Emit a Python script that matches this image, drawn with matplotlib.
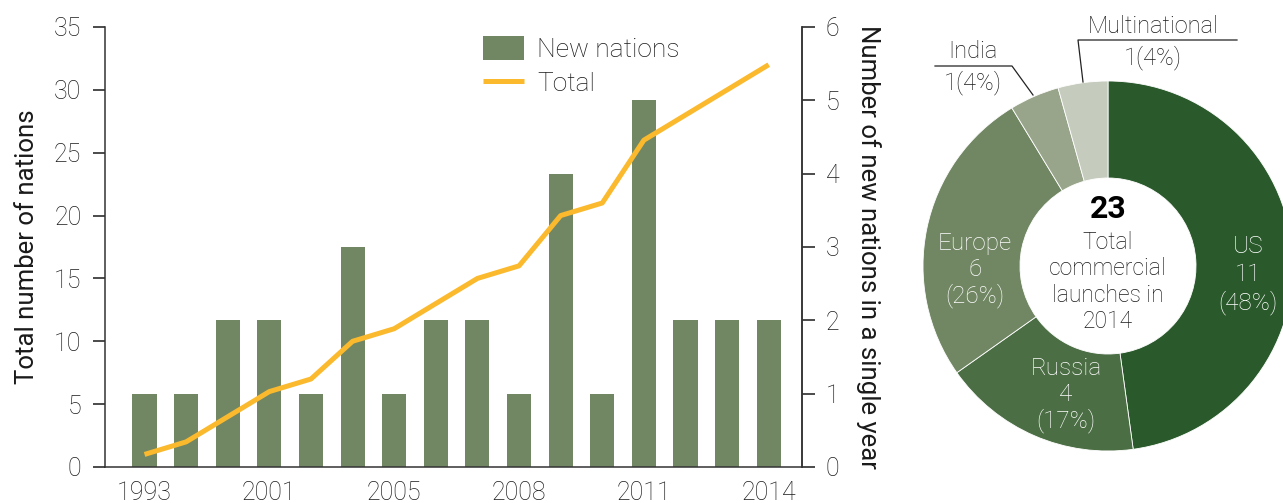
import matplotlib
matplotlib.use("Agg")
import matplotlib.pyplot as plt
from matplotlib.lines import Line2D

plt.rcParams['font.family'] = ['Roboto', 'DejaVu Sans']
plt.rcParams['font.weight'] = 'light'

# ---------------- data ----------------
years = ["1993", "1995", "1998", "2001", "2003", "2004", "2005", "2006",
         "2007", "2008", "2009", "2010", "2011", "2012", "2013", "2014"]
shown_years = ["1993", "2001", "2005", "2008", "2011", "2014"]
new_nations = [1, 1, 2, 2, 1, 3, 1, 2, 2, 1, 4, 1, 5, 2, 2, 2]
total_nations = [1, 2, 4, 6, 7, 10, 11, 13, 15, 16, 20, 21, 26, 28, 30, 32]

pie_labels = ["US", "Russia", "Europe", "India", "Multinational"]
pie_values = [11, 4, 6, 1, 1]
pie_pcts = ["48%", "17%", "26%", "4%", "4%"]
pie_total = 23

bar_color = "#718763"
line_color = "#FBB92D"
pie_colors = ["#2A5A2C", "#4B6E44", "#718763", "#98A58A", "#C5CBBD"]
text_color = "#1a1a1a"
spine_color = "#333333"

W, H = 1283, 503
fig = plt.figure(figsize=(W / 100, H / 100), dpi=100)

def box(l, t, r, b):
    return [l / W, 1 - b / H, (r - l) / W, (b - t) / H]

# ---------------- bar + line chart ----------------
ax = fig.add_axes(box(105, 27, 802, 467))
ax2 = ax.twinx()
x = list(range(len(years)))

# bars on the right-hand scale
ax.bar(x, new_nations, width=0.58, color=bar_color, label="New nations", zorder=2)
ax.set_ylim(0, 6)
ax.set_xlim(-0.95, len(years) - 0.2)
ax.set_yticks(range(0, 7))
tick_pos = [years.index(y) for y in shown_years]
ax.set_xticks(tick_pos)
ax.set_xticklabels(shown_years)
ax.tick_params(axis="x", length=0, pad=10, labelsize=18, colors=text_color)
for s in ["top", "left", "right"]:
    ax.spines[s].set_visible(False)
ax.spines["bottom"].set_color(spine_color)
ax.spines["bottom"].set_linewidth(1.1)

# line on the left-hand scale
ax2.plot(x, total_nations, color=line_color, lw=3.6, label="Total",
         solid_capstyle="butt", zorder=3)
ax2.set_ylim(0, 35)
ax2.set_yticks(range(0, 36, 5))
for s in ["top", "bottom"]:
    ax2.spines[s].set_visible(False)
for s in ["left", "right"]:
    ax2.spines[s].set_color(spine_color)
    ax2.spines[s].set_linewidth(1.1)

# axis sides: left ticks = total (ax2), right ticks = new nations (ax)
ax2.yaxis.tick_left()
ax2.yaxis.set_label_position("left")
ax.yaxis.tick_right()
ax.yaxis.set_label_position("right")
ax.spines["right"].set_visible(True)
ax.spines["right"].set_color(spine_color)
ax.spines["right"].set_linewidth(1.1)

ax2.set_ylabel("Total number of nations", fontsize=18.5, color=text_color, labelpad=11)
ax2.tick_params(axis="y", direction="out", length=9, width=1.1, pad=8,
                labelsize=18, colors=text_color)
ax.set_ylabel("Number of new nations in a single year", rotation=-90,
              fontsize=18.5, color=text_color, labelpad=12, va="bottom")
ax.tick_params(axis="y", direction="out", length=9, width=1.1, pad=8,
               labelsize=18, colors=text_color, left=False, labelleft=False,
               right=True, labelright=True)

h1, l1 = ax.get_legend_handles_labels()
h2, l2 = ax2.get_legend_handles_labels()
leg = ax2.legend(h1 + h2, l1 + l2, loc="upper left",
                 bbox_to_anchor=(483 / W, 1 - 36 / H), bbox_transform=fig.transFigure,
                 frameon=False, fontsize=19, handlelength=1.55, handleheight=1.05,
                 handletextpad=0.5, labelspacing=0.3, borderpad=0, borderaxespad=0)
for t in leg.get_texts():
    t.set_color(text_color)

# ---------------- donut ----------------
cx, cy, R = 1108, 266, 185
pax = fig.add_axes(box(cx - R, cy - R, cx + R, cy + R))
pax.pie(pie_values, colors=pie_colors, startangle=90, counterclock=False,
        radius=1.0, wedgeprops=dict(width=1 - 88 / 185, edgecolor="white", linewidth=0.6))
pax.set_xlim(-1, 1)
pax.set_ylim(-1, 1)
pax.set_aspect("equal")
pax.axis("off")

def d(px, py):
    return ((px - cx) / R, (cy - py) / R)

inner_pos = {"US": (1248, 275), "Russia": (1066, 395), "Europe": (975, 270)}
inner_ls = {"US": 1.25, "Russia": 1.13, "Europe": 1.13}
for lab, val, pct in zip(pie_labels, pie_values, pie_pcts):
    if lab in inner_pos:
        pax.text(*d(*inner_pos[lab]), f"{lab}\n{val}\n({pct})", ha="center", va="center",
                 color="white", fontsize=17.5, linespacing=inner_ls[lab])

pax.text(*d(1108, 209), str(pie_total), ha="center", va="center", fontsize=23,
         fontweight="bold", color="black")
pax.text(*d(1108, 282), "Total\ncommercial\nlaunches in\n2014", ha="center", va="center",
         fontsize=16.5, color=text_color, linespacing=1.2)

# outside labels
ind = pie_labels.index("India")
pax.text(*d(973, 51), pie_labels[ind], ha="center", va="center", fontsize=17,
         color=text_color, clip_on=False)
pax.text(*d(973, 83), f"{pie_values[ind]}({pie_pcts[ind]})", ha="center", va="center",
         fontsize=17, color=text_color, clip_on=False)
xs, ys = zip(d(935, 66), d(1012, 66), d(1033, 95))
pax.add_line(Line2D(xs, ys, color="#222222", lw=0.9, clip_on=False))

mul = pie_labels.index("Multinational")
pax.text(*d(1153, 26), pie_labels[mul], ha="center", va="center", fontsize=17,
         color=text_color, clip_on=False)
pax.text(*d(1153, 58), f"{pie_values[mul]}({pie_pcts[mul]})", ha="center", va="center",
         fontsize=17, color=text_color, clip_on=False)
xs, ys = zip(d(1083, 82), d(1078, 40), d(1237, 40))
pax.add_line(Line2D(xs, ys, color="#222222", lw=0.9, clip_on=False))

fig.savefig("out.png", dpi=100)
